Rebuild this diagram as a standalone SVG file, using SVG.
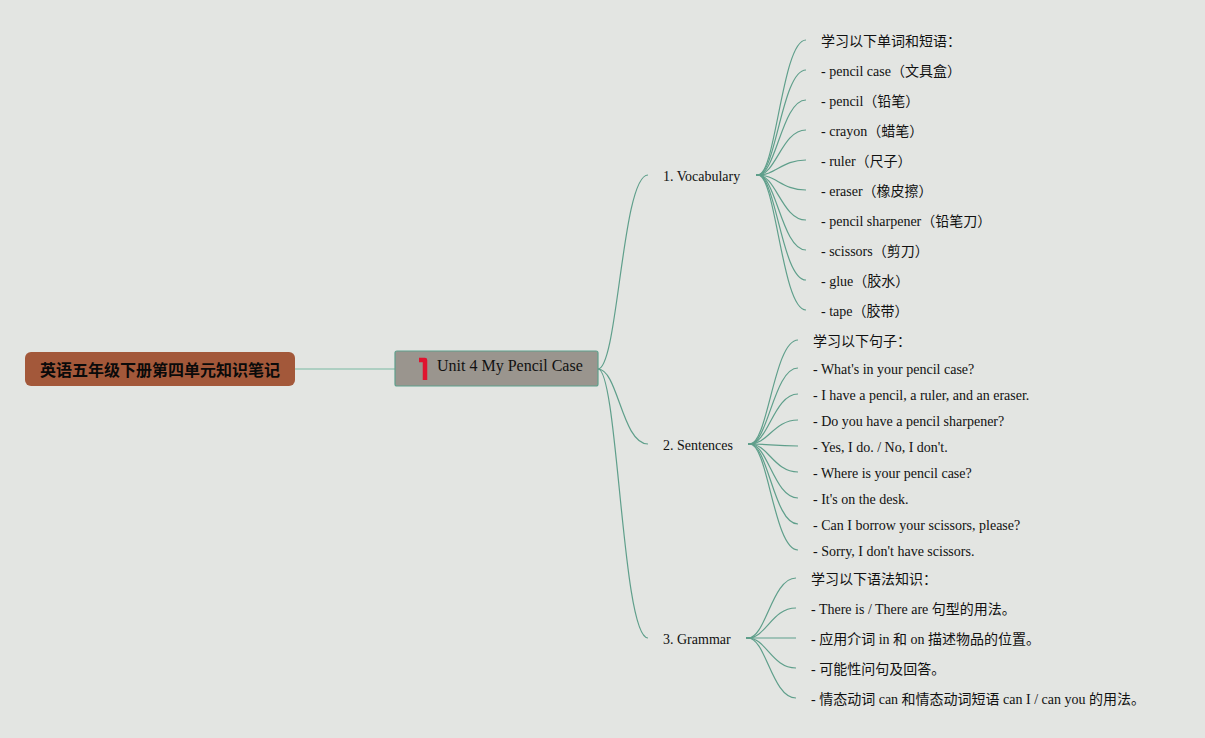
<svg xmlns="http://www.w3.org/2000/svg" width="1205" height="738" viewBox="0 0 1205 738">
<style>
text{font-family:"Liberation Serif","Noto Sans CJK SC",serif;font-size:14px;fill:#111}
.root{fill:#a3583a}
.rt{font-size:16px;font-weight:bold;text-anchor:middle;fill:#0a0a0a}
.center{fill:#9a958e;stroke:#5f9f8b;stroke-width:1.2}
.ct{font-size:16px}
#connectors path{fill:none;stroke:#5f9f8b;stroke-width:1.2}
#connectors .main{stroke:#9cc7b7;stroke-width:1.5}
#connectors .stub{stroke-width:2}
.icon{fill:none;stroke:#e0142f;stroke-width:4.5;stroke-linejoin:round}
</style>
<rect width="1205" height="738" fill="#e3e5e2"/>
<g id="connectors">
<path class="main" d="M295 369H395"/>
<path d="M598 369C618 369 622 175 648 175"/>
<path d="M598 369C618 369 622 444 648 444"/>
<path d="M598 369C618 369 622 638 648 638"/>
<path class="stub" d="M756 175H762"/>
<path d="M758 175C776 175 782 40 806 40"/>
<path d="M758 175C776 175 782 70 806 70"/>
<path d="M758 175C776 175 782 100 806 100"/>
<path d="M758 175C776 175 782 130 806 130"/>
<path d="M758 175C776 175 782 160 806 160"/>
<path d="M758 175C776 175 782 190 806 190"/>
<path d="M758 175C776 175 782 220 806 220"/>
<path d="M758 175C776 175 782 250 806 250"/>
<path d="M758 175C776 175 782 280 806 280"/>
<path d="M758 175C776 175 782 310 806 310"/>
<path class="stub" d="M748 444H754"/>
<path d="M750 444C768 444 774 340 798 340"/>
<path d="M750 444C768 444 774 368 798 368"/>
<path d="M750 444C768 444 774 394 798 394"/>
<path d="M750 444C768 444 774 420 798 420"/>
<path d="M750 444C768 444 774 446 798 446"/>
<path d="M750 444C768 444 774 472 798 472"/>
<path d="M750 444C768 444 774 498 798 498"/>
<path d="M750 444C768 444 774 524 798 524"/>
<path d="M750 444C768 444 774 550 798 550"/>
<path class="stub" d="M746 638H752"/>
<path d="M748 638C766 638 772 578 796 578"/>
<path d="M748 638C766 638 772 608 796 608"/>
<path d="M748 638H796"/>
<path d="M748 638C766 638 772 668 796 668"/>
<path d="M748 638C766 638 772 698 796 698"/>
</g>
<g id="root"><rect class="root" x="25" y="352" width="270" height="34" rx="6"/><text class="rt" x="160" y="376">英语五年级下册第四单元知识笔记</text></g>
<g id="center"><rect class="center" x="395" y="351" width="203" height="35" rx="2"/><path class="icon" d="M419 360H425V380"/><text class="ct" x="437" y="371">Unit 4 My Pencil Case</text></g>
<g id="b1"><text x="663" y="181">1. Vocabulary</text></g>
<g id="b2"><text x="663" y="450">2. Sentences</text></g>
<g id="b3"><text x="663" y="644">3. Grammar</text></g>
<g id="v0"><text x="821" y="46">学习以下单词和短语：</text></g>
<g id="v1"><text x="821" y="76">- pencil case（文具盒）</text></g>
<g id="v2"><text x="821" y="106">- pencil（铅笔）</text></g>
<g id="v3"><text x="821" y="136">- crayon（蜡笔）</text></g>
<g id="v4"><text x="821" y="166">- ruler（尺子）</text></g>
<g id="v5"><text x="821" y="196">- eraser（橡皮擦）</text></g>
<g id="v6"><text x="821" y="226">- pencil sharpener（铅笔刀）</text></g>
<g id="v7"><text x="821" y="256">- scissors（剪刀）</text></g>
<g id="v8"><text x="821" y="286">- glue（胶水）</text></g>
<g id="v9"><text x="821" y="316">- tape（胶带）</text></g>
<g id="s0"><text x="813" y="346">学习以下句子：</text></g>
<g id="s1"><text x="813" y="374">- What's in your pencil case?</text></g>
<g id="s2"><text x="813" y="400">- I have a pencil, a ruler, and an eraser.</text></g>
<g id="s3"><text x="813" y="426">- Do you have a pencil sharpener?</text></g>
<g id="s4"><text x="813" y="452">- Yes, I do. / No, I don't.</text></g>
<g id="s5"><text x="813" y="478">- Where is your pencil case?</text></g>
<g id="s6"><text x="813" y="504">- It's on the desk.</text></g>
<g id="s7"><text x="813" y="530">- Can I borrow your scissors, please?</text></g>
<g id="s8"><text x="813" y="556">- Sorry, I don't have scissors.</text></g>
<g id="g0"><text x="811" y="584">学习以下语法知识：</text></g>
<g id="g1"><text x="811" y="614">- There is / There are 句型的用法。</text></g>
<g id="g2"><text x="811" y="644">- 应用介词 in 和 on 描述物品的位置。</text></g>
<g id="g3"><text x="811" y="674">- 可能性问句及回答。</text></g>
<g id="g4"><text x="811" y="704">- 情态动词 can 和情态动词短语 can I / can you 的用法。</text></g>
</svg>
